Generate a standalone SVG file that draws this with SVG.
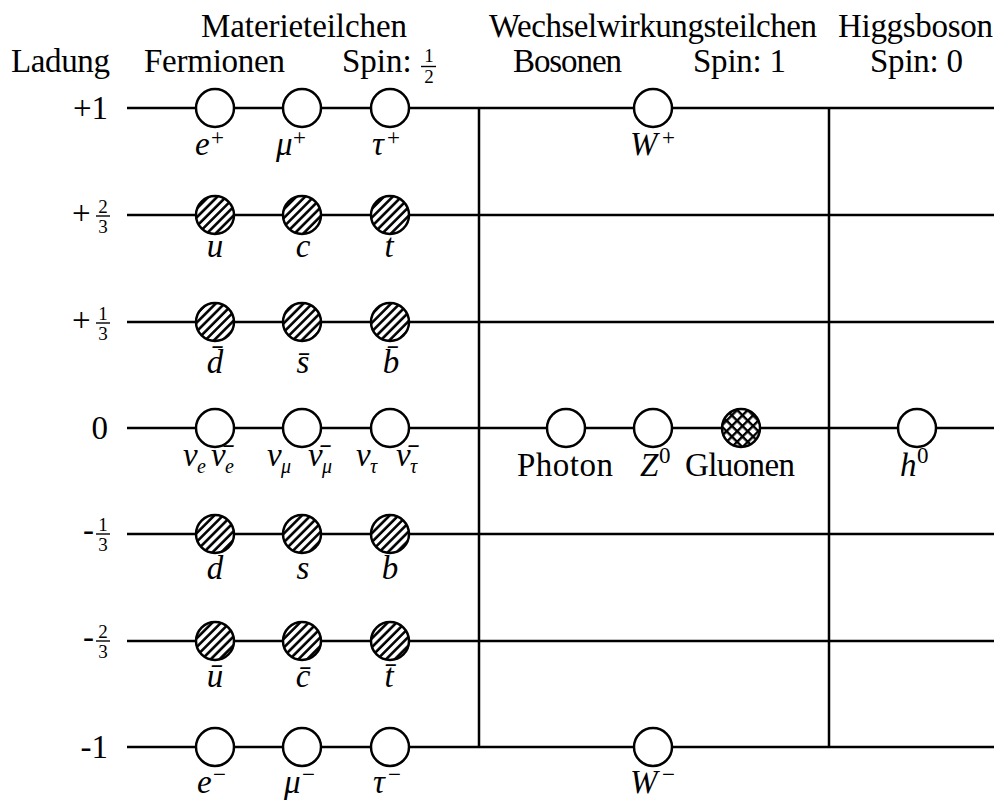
<svg xmlns="http://www.w3.org/2000/svg" width="994" height="800" viewBox="0 0 994 800">
<style>
text{font-family:"Liberation Serif","Times New Roman",serif;fill:#000}
.t{font-size:33px}
.m{font-size:33px;font-style:italic}
.sup{font-size:23px;font-style:normal}
.subi{font-size:20px;font-style:italic}
.fr{font-size:19px;text-anchor:middle}
.ln{stroke:#000;stroke-width:2.5;fill:none}
.bar{stroke:#000;stroke-width:1.4}
.c{stroke:#000;stroke-width:2.5;fill:#fff}
.h{stroke:#000;stroke-width:2.5;fill:url(#hatch)}
.x{stroke:#000;stroke-width:2.5;fill:url(#cross)}
</style>
<defs>
<pattern id="hatch" patternUnits="userSpaceOnUse" width="6.2" height="6.2" patternTransform="rotate(45)">
<rect width="6.2" height="6.2" fill="#fff"/>
<line x1="1.4" y1="-1" x2="1.4" y2="7.2" stroke="#000" stroke-width="2.6"/>
</pattern>
<pattern id="cross" patternUnits="userSpaceOnUse" width="7.5" height="7.5" patternTransform="rotate(45)">
<rect width="7.5" height="7.5" fill="#fff"/>
<line x1="1.2" y1="-1" x2="1.2" y2="8.5" stroke="#000" stroke-width="2.4"/>
<line x1="-1" y1="1.2" x2="8.5" y2="1.2" stroke="#000" stroke-width="2.4"/>
</pattern>
</defs>

<g id="headers">
<text class="t" x="201" y="37" textLength="206">Materieteilchen</text>
<text class="t" x="11" y="72" textLength="99">Ladung</text>
<text class="t" x="144" y="72" textLength="141">Fermionen</text>
<text class="t" x="342" y="72">Spin:</text>
<text class="fr" x="429" y="62">1</text>
<line class="bar" x1="421" y1="66.5" x2="436" y2="66.5"/>
<text class="fr" x="429" y="83">2</text>
<text class="t" x="489" y="37" textLength="328">Wechselwirkungsteilchen</text>
<text class="t" x="838" y="37" textLength="155">Higgsboson</text>
<text class="t" x="513" y="72" textLength="109">Bosonen</text>
<text class="t" x="693" y="72" textLength="93">Spin: 1</text>
<text class="t" x="870" y="72" textLength="93">Spin: 0</text>
</g>

<g id="charges">
<text class="t" x="108" y="119" text-anchor="end">+1</text>
<text class="t" x="72" y="224">+</text>
<text class="fr" x="103" y="213">2</text>
<line class="bar" x1="96" y1="216" x2="110" y2="216"/>
<text class="fr" x="103" y="233">3</text>
<text class="t" x="72" y="331">+</text>
<text class="fr" x="103" y="320">1</text>
<line class="bar" x1="96" y1="323" x2="110" y2="323"/>
<text class="fr" x="103" y="340">3</text>
<text class="t" x="108" y="439" text-anchor="end">0</text>
<text class="t" x="83" y="541">-</text>
<text class="fr" x="103" y="531">1</text>
<line class="bar" x1="96" y1="534" x2="110" y2="534"/>
<text class="fr" x="103" y="551">3</text>
<text class="t" x="83" y="648">-</text>
<text class="fr" x="103" y="638">2</text>
<line class="bar" x1="96" y1="641" x2="110" y2="641"/>
<text class="fr" x="103" y="658">3</text>
<text class="t" x="108" y="758" text-anchor="end">-1</text>
</g>

<g id="connectors">
<line class="ln" x1="127" y1="108" x2="994" y2="108"/>
<line class="ln" x1="127" y1="215" x2="994" y2="215"/>
<line class="ln" x1="127" y1="322" x2="994" y2="322"/>
<line class="ln" x1="127" y1="428" x2="994" y2="428"/>
<line class="ln" x1="127" y1="534" x2="994" y2="534"/>
<line class="ln" x1="127" y1="641" x2="994" y2="641"/>
<line class="ln" x1="127" y1="747" x2="994" y2="747"/>
<line class="ln" x1="479" y1="108" x2="479" y2="747"/>
<line class="ln" x1="829" y1="108" x2="829" y2="747"/>
</g>

<g id="e-plus"><circle class="c" cx="215" cy="108" r="19"/><text class="m" y="155"><tspan x="195">e</tspan><tspan class="sup" x="211" dy="-10">+</tspan></text></g>
<g id="mu-plus"><circle class="c" cx="302" cy="108" r="19"/><text class="m" y="155"><tspan x="276">μ</tspan><tspan class="sup" x="293" dy="-10">+</tspan></text></g>
<g id="tau-plus"><circle class="c" cx="390" cy="108" r="19"/><text class="m" y="155"><tspan x="372">τ</tspan><tspan class="sup" x="387" dy="-10">+</tspan></text></g>

<g id="u"><circle class="h" cx="215" cy="215" r="19"/><text class="m" x="215" y="257" text-anchor="middle">u</text></g>
<g id="c"><circle class="h" cx="302" cy="215" r="19"/><text class="m" x="303" y="257" text-anchor="middle">c</text></g>
<g id="t"><circle class="h" cx="390" cy="215" r="19"/><text class="m" x="389" y="257" text-anchor="middle">t</text></g>

<g id="d-bar"><circle class="h" cx="215" cy="322" r="19"/><text class="m" x="215" y="373" text-anchor="middle">d&#x0304;</text></g>
<g id="s-bar"><circle class="h" cx="302" cy="322" r="19"/><text class="m" x="303" y="373" text-anchor="middle">s&#x0304;</text></g>
<g id="b-bar"><circle class="h" cx="390" cy="322" r="19"/><text class="m" x="391" y="373" text-anchor="middle">b&#x0304;</text></g>

<g id="nu-e"><circle class="c" cx="215" cy="428" r="19"/><text class="m" y="466"><tspan x="183">ν</tspan><tspan class="subi" x="197" dy="7">e</tspan></text><text class="m" y="466"><tspan x="211">ν&#x0304;</tspan><tspan class="subi" x="225" dy="7">e</tspan></text></g>
<g id="nu-mu"><circle class="c" cx="302" cy="428" r="19"/><text class="m" y="466"><tspan x="267">ν</tspan><tspan class="subi" x="281" dy="7">μ</tspan></text><text class="m" y="466"><tspan x="308">ν&#x0304;</tspan><tspan class="subi" x="322" dy="7">μ</tspan></text></g>
<g id="nu-tau"><circle class="c" cx="390" cy="428" r="19"/><text class="m" y="466"><tspan x="356">ν</tspan><tspan class="subi" x="370" dy="7">τ</tspan></text><text class="m" y="466"><tspan x="396">ν&#x0304;</tspan><tspan class="subi" x="410" dy="7">τ</tspan></text></g>

<g id="d"><circle class="h" cx="215" cy="534" r="19"/><text class="m" x="215" y="579" text-anchor="middle">d</text></g>
<g id="s"><circle class="h" cx="302" cy="534" r="19"/><text class="m" x="303" y="579" text-anchor="middle">s</text></g>
<g id="b"><circle class="h" cx="390" cy="534" r="19"/><text class="m" x="390" y="579" text-anchor="middle">b</text></g>

<g id="u-bar"><circle class="h" cx="215" cy="641" r="19"/><text class="m" x="215" y="687" text-anchor="middle">u&#x0304;</text></g>
<g id="c-bar"><circle class="h" cx="302" cy="641" r="19"/><text class="m" x="303" y="687" text-anchor="middle">c&#x0304;</text></g>
<g id="t-bar"><circle class="h" cx="390" cy="641" r="19"/><text class="m" x="389" y="687" text-anchor="middle">t&#x0304;</text></g>

<g id="e-minus"><circle class="c" cx="215" cy="747" r="19"/><text class="m" y="793"><tspan x="197">e</tspan><tspan class="sup" x="213" dy="-11">−</tspan></text></g>
<g id="mu-minus"><circle class="c" cx="302" cy="747" r="19"/><text class="m" y="793"><tspan x="284">μ</tspan><tspan class="sup" x="302" dy="-11">−</tspan></text></g>
<g id="tau-minus"><circle class="c" cx="390" cy="747" r="19"/><text class="m" y="793"><tspan x="373">τ</tspan><tspan class="sup" x="388" dy="-11">−</tspan></text></g>

<g id="w-plus"><circle class="c" cx="653" cy="108" r="19"/><text class="m" y="155"><tspan x="630">W</tspan><tspan class="sup" x="662" dy="-10">+</tspan></text></g>
<g id="photon"><circle class="c" cx="566" cy="428" r="19"/><text class="t" x="517" y="476" textLength="96">Photon</text></g>
<g id="z0"><circle class="c" cx="653" cy="428" r="19"/><text class="m" y="476"><tspan x="640">Z</tspan><tspan class="sup" x="659" dy="-13">0</tspan></text></g>
<g id="gluonen"><circle class="x" cx="741" cy="428" r="19"/><text class="t" x="685" y="476" textLength="110">Gluonen</text></g>
<g id="w-minus"><circle class="c" cx="653" cy="747" r="19"/><text class="m" y="793"><tspan x="630">W</tspan><tspan class="sup" x="662" dy="-11">−</tspan></text></g>
<g id="h0"><circle class="c" cx="917" cy="428" r="19"/><text class="m" y="476"><tspan x="900">h</tspan><tspan class="sup" x="917" dy="-13">0</tspan></text></g>
</svg>
